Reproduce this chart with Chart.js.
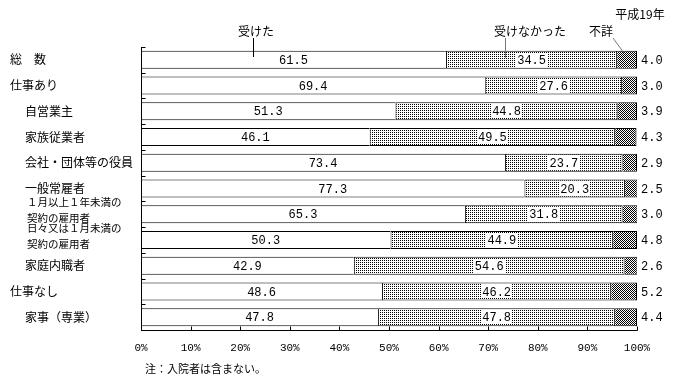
<!DOCTYPE html>
<html lang="ja">
<head>
<meta charset="utf-8">
<script src="https://cdn.jsdelivr.net/npm/chart.js@4.4.1/dist/chart.umd.min.js"></script>
<style>
  html, body { margin: 0; padding: 0; background: #fff; }
  #wrap { width: 674px; height: 388px; }
</style>
</head>
<body>
<div id="wrap"><canvas id="chart" width="674" height="388"></canvas></div>
<script>
// rows, top to bottom
const categories = [
  "総　数", "仕事あり", "自営業主", "家族従業者", "会社・団体等の役員", "一般常雇者",
  ["１月以上１年未満の", "契約の雇用者"], ["日々又は１月未満の", "契約の雇用者"],
  "家庭内職者", "仕事なし", "家事（専業）"
];
const labelIndent = [0, 0, 1, 1, 1, 1, 1, 1, 1, 0, 1];

// values (%)
const received    = [61.5, 69.4, 51.3, 46.1, 73.4, 77.3, 65.3, 50.3, 42.9, 48.6, 47.8];
const notReceived = [34.5, 27.6, 44.8, 49.5, 23.7, 20.3, 31.8, 44.9, 54.6, 46.2, 47.8];
const unknown     = [4.0, 3.0, 3.9, 4.3, 2.9, 2.5, 3.0, 4.8, 2.6, 5.2, 4.4];
const seriesNames = ["受けた", "受けなかった", "不詳"];

const jpFont = '"Noto Sans CJK JP", sans-serif';
const numFont = '"Liberation Mono", "DejaVu Sans Mono", monospace';

// small bitmap fills like the print original
function makePattern(size, dots) {
  const c = document.createElement("canvas");
  c.width = size;
  c.height = size;
  const g = c.getContext("2d");
  g.fillStyle = "#fff";
  g.fillRect(0, 0, size, size);
  g.fillStyle = "#000";
  dots.forEach(([px, py]) => g.fillRect(px, py, 1, 1));
  return g.createPattern(c, "repeat");
}
const dotFill = makePattern(2, [[0, 0]]);
const darkFill = makePattern(4, [[0, 0], [2, 0], [1, 1], [3, 1], [0, 2], [2, 2], [1, 3], [3, 3]]);

// labels, axes, value texts and call-outs
const decorations = {
  id: "decorations",
  afterDraw(chart) {
    const { ctx, chartArea, scales: { x, y } } = chart;
    ctx.save();
    ctx.fillStyle = "#000";
    ctx.strokeStyle = "#000";
    ctx.lineWidth = 1;

    // axis lines
    const L = Math.round(chartArea.left) + 0.5;
    const B = Math.round(chartArea.bottom) + 0.5;
    const T = Math.round(chartArea.top);
    ctx.beginPath();
    ctx.moveTo(L, T);
    ctx.lineTo(L, B);
    ctx.lineTo(Math.round(chartArea.right) + 0.5, B);
    ctx.stroke();

    // category boundary ticks (inward)
    ctx.beginPath();
    for (let i = 0; i <= categories.length; i++) {
      const yb = Math.round(y.getPixelForValue(i - 0.5)) + 0.5;
      ctx.moveTo(L, yb);
      ctx.lineTo(L + 4, yb);
    }
    // percent ticks (inward)
    for (let v = 0; v <= 100; v += 10) {
      const xp = Math.round(x.getPixelForValue(v)) + 0.5;
      ctx.moveTo(xp, B);
      ctx.lineTo(xp, B - 4);
    }
    ctx.stroke();

    // row labels
    ctx.textAlign = "left";
    ctx.textBaseline = "middle";
    categories.forEach((lab, i) => {
      const yc = y.getPixelForValue(i);
      const lx = 10 + labelIndent[i] * 15;
      if (Array.isArray(lab)) {
        ctx.font = "10.5px " + jpFont;
        ctx.fillText(lab[0], lx + 2, yc - 12);
        ctx.fillText(lab[1], lx + 2, yc + 4);
      } else {
        ctx.font = "12px " + jpFont;
        ctx.fillText(lab, lx, yc);
      }
    });

    // value labels
    ctx.font = "12px " + numFont;
    chart.data.datasets.forEach((ds, di) => {
      const meta = chart.getDatasetMeta(di);
      meta.data.forEach((bar, i) => {
        const txt = ds.data[i].toFixed(1);
        if (di < 2) {
          const cx = (bar.x + bar.base) / 2;
          const w = ctx.measureText(txt).width;
          ctx.fillStyle = "#fff";
          ctx.fillRect(Math.round(cx - w / 2 - 1), Math.round(bar.y - 7), Math.round(w + 2), 14);
          ctx.fillStyle = "#000";
          ctx.textAlign = "center";
          ctx.fillText(txt, cx, bar.y + 1);
        } else {
          ctx.textAlign = "left";
          ctx.fillText(txt, chartArea.right + 4, bar.y + 1);
        }
      });
    });

    // series call-outs
    ctx.font = "12px " + jpFont;
    ctx.textAlign = "center";
    ctx.fillText("平成19年", 640, 14);
    ctx.fillText(seriesNames[0], 256, 31);
    ctx.fillText(seriesNames[1], 530, 31);
    ctx.fillText(seriesNames[2], 601, 31);
    ctx.beginPath();
    ctx.moveTo(253.5, 38);
    ctx.lineTo(253.5, 57);
    ctx.stroke();
    ctx.strokeStyle = "#777";
    ctx.beginPath();
    ctx.moveTo(505.5, 38);
    ctx.lineTo(505.5, 58);
    ctx.moveTo(613, 38);
    ctx.lineTo(624, 53);
    ctx.stroke();

    // note
    ctx.fillStyle = "#000";
    ctx.textAlign = "left";
    ctx.font = "11px " + jpFont;
    ctx.fillText("注：入院者は含まない。", 145, 369);
    ctx.restore();
  }
};

const barStyle = {
  borderColor: "#000",
  borderSkipped: false,
  barPercentage: 0.7,
  categoryPercentage: 1.0
};
// later segments skip their left edge so shared edges stay 1px
const fullBorder = { top: 1, bottom: 1, left: 1, right: 1 };
const openLeft = { top: 1, bottom: 1, left: 0, right: 1 };

new Chart(document.getElementById("chart").getContext("2d"), {
  type: "bar",
  data: {
    labels: categories,
    datasets: [
      { label: seriesNames[0], data: received, backgroundColor: "#fff", borderWidth: { top: 1, bottom: 1, left: 0, right: 0 }, ...barStyle },
      { label: seriesNames[1], data: notReceived, backgroundColor: dotFill, borderWidth: fullBorder, ...barStyle },
      { label: seriesNames[2], data: unknown, backgroundColor: darkFill, borderWidth: openLeft, ...barStyle }
    ]
  },
  options: {
    indexAxis: "y",
    responsive: false,
    animation: false,
    events: [],
    layout: { padding: { top: 47, right: 37, bottom: 0, left: 10 } },
    plugins: { legend: { display: false }, tooltip: { enabled: false } },
    scales: {
      x: {
        stacked: true,
        min: 0,
        max: 100,
        border: { display: false },
        grid: { display: false, drawTicks: false },
        ticks: {
          stepSize: 10,
          padding: 11,
          color: "#000",
          autoSkip: false,
          maxRotation: 0,
          font: { family: numFont, size: 11 },
          callback: (v) => v + "%"
        },
        afterFit(s) { s.height = 58; }
      },
      y: {
        stacked: true,
        border: { display: false },
        grid: { display: false, drawTicks: false },
        ticks: { display: false },
        afterFit(s) { s.width = 131; }
      }
    }
  },
  plugins: [decorations]
});
</script>
</body>
</html>
